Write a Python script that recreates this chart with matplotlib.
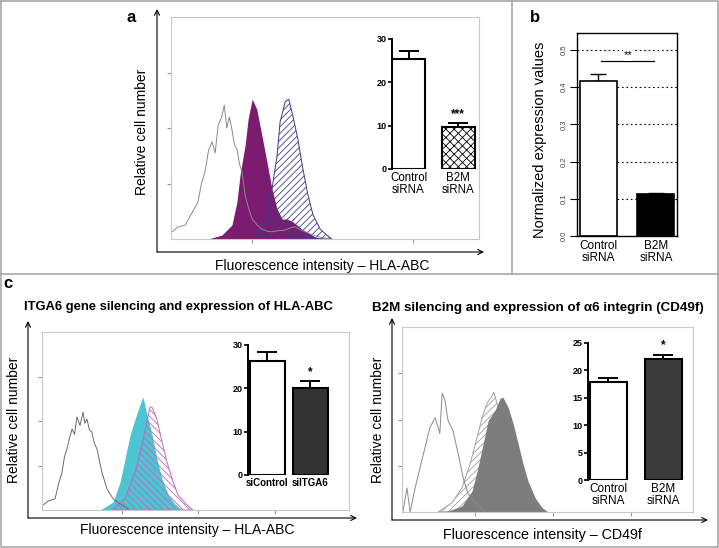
import matplotlib
matplotlib.use("Agg")
import matplotlib.pyplot as plt

plt.rcParams["font.family"] = ["Liberation Sans", "DejaVu Sans"]
plt.rcParams["hatch.linewidth"] = 0.6

W, H = 719, 548

# ---- panel a: flow histograms (channel units, relative count 0-4) -----------
a_ig_x = [2, 15, 28, 40, 53, 60, 67, 74, 81, 87, 93, 100, 105, 110, 115, 120, 125, 130,
          135, 140, 146, 153, 160, 170, 179, 190, 199, 212, 225, 235, 244, 255, 264, 278, 290, 313]
a_ig_y = [0.13, 0.22, 0.25, 0.45, 0.66, 1.0, 1.21, 1.6, 1.75, 1.55, 2.05, 2.2, 2.41, 2.0, 2.2,
          1.98, 1.7, 1.62, 1.35, 1.21, 0.79, 0.55, 0.36, 0.25, 0.18, 0.14, 0.13, 0.15, 0.16,
          0.2, 0.22, 0.17, 0.13, 0.08, 0.04, 0.0]
a_b2m_x = [73, 100, 120, 130, 136, 146, 152, 160, 169, 179, 189, 199, 209, 219, 229, 240, 258, 278, 290]
a_b2m_y = [0, 0.07, 0.25, 0.67, 1.15, 1.69, 2.16, 2.52, 2.34, 1.87, 1.39, 0.90, 0.54, 0.36,
           0.36, 0.31, 0.18, 0.07, 0]
a_ctl_x = [165, 185, 199, 209, 215, 225, 232, 240, 250, 260, 270, 280, 294, 307, 317]
a_ctl_y = [0.04, 0.31, 0.90, 1.50, 2.11, 2.47, 2.52, 2.23, 1.80, 1.26, 0.79, 0.43, 0.18, 0.07, 0]

# panel a inset: MFI
a_mfi_labels = ["Control\nsiRNA", "B2M\nsiRNA"]
a_mfi = [25.3, 9.8]
a_mfi_err = [1.9, 0.7]

# panel b: normalized expression
b_labels = ["Control\nsiRNA", "B2M\nsiRNA"]
b_vals = [0.417, 0.112]
b_err = [0.019, 0.003]

# panel c left: ITGA6 silencing, HLA-ABC
cl_ig_x = [3, 20, 43, 55, 66, 74, 82, 90, 99, 107, 115, 125, 135, 141, 148, 156, 164, 172,
           181, 189, 197, 214, 234, 263, 283]
cl_ig_y = [0.11, 0.2, 0.25, 0.6, 0.85, 1.2, 1.37, 1.6, 1.82, 1.7, 2.09, 1.9, 2.2, 1.95, 2.04,
           1.8, 1.75, 1.5, 1.37, 1.1, 0.85, 0.47, 0.25, 0.11, 0.02]
cl_si_x = [191, 234, 257, 273, 290, 306, 322, 332, 346, 362, 378, 395, 415, 438, 461]
cl_si_y = [0, 0.18, 0.63, 1.15, 1.69, 2.04, 2.36, 2.54, 2.13, 1.69, 1.15, 0.70, 0.34, 0.13, 0]
cl_ctl_x = [230, 273, 306, 329, 345, 355, 362, 378, 395, 411, 428, 447, 477, 497]
cl_ctl_y = [0, 0.25, 0.85, 1.46, 1.98, 2.31, 2.31, 2.04, 1.53, 1.08, 0.70, 0.34, 0.11, 0]
cl_mfi_labels = ["siControl", "siITGA6"]
cl_mfi = [26.4, 20.0]
cl_mfi_err = [2.1, 1.6]

# panel c right: B2M silencing, CD49f
cr_ig_x = [3, 17, 28, 45, 62, 79, 96, 114, 130, 138, 148, 158, 175, 193, 210, 227, 258, 286]
cr_ig_y = [0, 0.52, 0, 0.52, 0.96, 1.39, 1.83, 2.04, 1.7, 2.57, 2.41, 1.98, 1.76, 1.26, 0.74,
           0.39, 0.17, 0]
cr_b2m_x = [124, 172, 206, 234, 258, 275, 292, 310, 316, 330, 354, 389, 423, 458]
cr_b2m_y = [0, 0.2, 0.52, 1.04, 1.61, 2.04, 2.35, 2.52, 2.59, 2.26, 1.76, 1.11, 0.52, 0.09]
cr_ctl_x = [148, 206, 241, 261, 279, 296, 320, 337, 347, 365, 382, 399, 416, 433, 458, 482, 502]
cr_ctl_y = [0, 0.13, 0.46, 0.96, 1.48, 1.98, 2.2, 2.46, 2.48, 2.26, 1.91, 1.48, 1.04, 0.67,
            0.30, 0.09, 0]
cr_mfi_labels = ["Control\nsiRNA", "B2M\nsiRNA"]
cr_mfi = [17.8, 22.1]
cr_mfi_err = [0.9, 0.7]

PURPLE = "#7b1c70"
NAVY = "#3c3c8c"
CYAN = "#4cc4d4"
PINK = "#c06ab4"


def rect(x0, y0, x1, y1):
    """pixel box (top-left origin) -> figure fraction rect"""
    return [x0 / W, 1 - y1 / H, (x1 - x0) / W, (y1 - y0) / H]


def hist_box(r, xmax, xticks):
    ax = fig.add_axes(rect(*r))
    ax.set_xlim(0, xmax)
    ax.set_ylim(0, 4)
    for s in ax.spines.values():
        s.set_color("#c8c8c8")
        s.set_linewidth(0.8)
    ax.set_yticks([1, 2, 3])
    ax.set_xticks(xticks)
    ax.tick_params(length=3, color="#999999", labelleft=False, labelbottom=False)
    return ax


def mfi_inset(r, xmax, pos, vals, errs, ylim, yticks, faces, hatches, labels, stars,
              lab_bold, lab_size, capsize):
    ax = fig.add_axes(rect(*r))
    ax.patch.set_alpha(0)
    ax.bar(pos, vals, width=1.0, color=faces, edgecolor="black", linewidth=1.5,
           hatch=hatches, zorder=2)
    ax.errorbar(pos, vals, yerr=[[0] * len(vals), errs], fmt="none", ecolor="black",
                elinewidth=1.4, capsize=capsize, capthick=1.4, zorder=1)
    top = vals[1] + errs[1]
    ax.text(pos[1], top + ylim[1] * 0.025, stars, ha="center", va="bottom",
            fontsize=8.5, fontweight="bold")
    ax.set_ylim(*ylim)
    ax.set_xlim(0, xmax)
    ax.set_yticks(yticks)
    ax.set_yticklabels([str(t) for t in yticks], fontsize=6.5, fontweight="bold")
    ax.set_xticks(pos)
    ax.set_xticklabels(labels, fontsize=lab_size,
                       fontweight="bold" if lab_bold else "normal", linespacing=1.0)
    ax.tick_params(axis="x", length=0, pad=2)
    ax.tick_params(axis="y", length=3, width=1.2, pad=1)
    for k in ("top", "right", "bottom"):
        ax.spines[k].set_visible(False)
    ax.spines["left"].set_linewidth(1.4)
    return ax


fig = plt.figure(figsize=(W / 100, H / 100), dpi=100)

# background overlay in pixel coordinates for frames, axis arrows and labels
bg = fig.add_axes([0, 0, 1, 1])
bg.set_xlim(0, W)
bg.set_ylim(H, 0)
bg.axis("off")
FR = "#a8a8a8"
bg.plot([1, W - 1, W - 1, 1, 1], [1, 1, H - 1, H - 1, 1], color=FR, lw=1.2)
bg.plot([0, W], [274, 274], color=FR, lw=1.2)
bg.plot([512, 512], [0, 274], color=FR, lw=1.2)


def axis_arrows(x0, y0, xtop, xright):
    ap = dict(arrowstyle="->", color="black", lw=0.8, mutation_scale=9, shrinkA=0, shrinkB=0)
    bg.annotate("", xy=(x0, xtop), xytext=(x0, y0), arrowprops=ap)
    bg.annotate("", xy=(xright, y0), xytext=(x0, y0), arrowprops=ap)


def pointer(x, y0, y1):
    bg.annotate("", xy=(x, y1), xytext=(x, y0),
                arrowprops=dict(arrowstyle="->", color="black", lw=0.9,
                                mutation_scale=9, shrinkA=0, shrinkB=0))


txt = dict(ha="center", va="center")
LAB = 10

# ---------------- panel a ----------------
axis_arrows(157, 252, 9, 484)
ax = hist_box((171, 17, 479, 239), 607, [160, 477])
ax.plot(a_ig_x, a_ig_y, color="#8a8a8a", lw=0.7)
ax.fill_between(a_b2m_x, a_b2m_y, color=PURPLE, lw=0)
ax.fill(a_ctl_x, a_ctl_y, facecolor="none", edgecolor=NAVY, hatch="/////", lw=0.7)

bg.text(131, 17, "a", fontsize=12, fontweight="bold", **txt)
bg.text(142, 132, "Relative cell number", rotation=90, fontsize=LAB, **txt)
bg.text(322, 266, "Fluorescence intensity – HLA-ABC", fontsize=LAB, **txt)
bg.text(208, 91, "Control\nIg", fontsize=9, fontweight="bold", linespacing=1.0, **txt)
pointer(208, 107, 148)
bg.text(253, 81, "B2M\nsiRNA", fontsize=8.3, fontweight="bold", linespacing=1.0, **txt)
bg.text(291, 81, "Control\nsiRNA", fontsize=8.3, fontweight="bold", linespacing=1.0, **txt)

mfi_inset((392, 39, 478, 169), 2.6, [0.5, 2.0], a_mfi, a_mfi_err, (0, 30), [0, 10, 20, 30],
          ["white", "white"], ["", "xxxx"], a_mfi_labels, "***", False, 8.3, 7)
bg.text(358, 105, "MFI", rotation=90, fontsize=7, fontweight="bold", **txt)

# ---------------- panel b ----------------
bg.text(535, 17, "b", fontsize=12, fontweight="bold", **txt)
axb = fig.add_axes(rect(577, 33, 677, 236))
axb.bar([0, 1.55], b_vals, width=1.0, color=["white", "black"], edgecolor="black",
        linewidth=1.2, zorder=2)
axb.errorbar([0, 1.55], b_vals, yerr=[[0, 0], b_err], fmt="none", ecolor="black",
             elinewidth=1.0, capsize=6, capthick=1.0, zorder=1)
axb.set_xlim(-0.58, 2.12)
axb.set_ylim(0, 0.5457)
axb.set_yticks([0, 0.1, 0.2, 0.3, 0.4, 0.5])
axb.set_yticklabels(["0.0", "0.1", "0.2", "0.3", "0.4", "0.5"], rotation=90, fontsize=5.5,
                    color="#444444", va="center")
axb.yaxis.grid(True, linestyle=(0, (1.5, 2.5)), color="black", lw=0.8)
axb.set_axisbelow(True)
axb.set_xticks([0, 1.55])
axb.set_xticklabels(b_labels, fontsize=8.5, linespacing=1.0)
axb.tick_params(axis="x", length=0, pad=3)
axb.tick_params(axis="y", length=5, pad=2)
for s in axb.spines.values():
    s.set_linewidth(1.0)
axb.plot([0.08, 1.5], [0.47, 0.47], color="black", lw=0.9)
axb.text(0.79, 0.473, "**", ha="center", va="bottom", fontsize=8, zorder=5,
         bbox=dict(facecolor="white", edgecolor="none", pad=0.5))
bg.text(540, 140, "Normalized expression values", rotation=90, fontsize=10.5, **txt)

# ---------------- panel c ----------------
bg.text(8, 284, "c", fontsize=12, fontweight="bold", **txt)
bg.text(24, 307, "ITGA6 gene silencing and expression of HLA-ABC", fontsize=9.4,
        fontweight="bold", ha="left", va="center")
bg.text(372, 308, "B2M silencing and expression of \u03b16 integrin (CD49f)", fontsize=9.6,
        fontweight="bold", ha="left", va="center")

# c left
axis_arrows(28, 518, 321, 357)
ax = hist_box((42, 332, 349, 510), 1010, [263, 513, 766])
ax.plot(cl_ig_x, cl_ig_y, color="#6a6a6a", lw=0.7)
ax.fill_between(cl_si_x, cl_si_y, color=CYAN, lw=0)
ax.fill(cl_ctl_x, cl_ctl_y, facecolor="none", edgecolor=PINK, hatch="\\\\\\\\\\", lw=0.7)
bg.text(14, 420, "Relative cell number", rotation=90, fontsize=LAB, **txt)
bg.text(187, 530, "Fluorescence intensity – HLA-ABC", fontsize=LAB, **txt)
bg.text(80, 352, "Control Ig", fontsize=9, fontweight="bold", **txt)
pointer(83, 366, 402)
bg.text(118, 387, "ITGA6\nsiRNA", fontsize=9, fontweight="bold", color="#2aa9c4",
        linespacing=1.05, **txt)
bg.text(178, 395, "Control\nsiRNA", fontsize=9, fontweight="bold", color="#a04d9a",
        linespacing=1.05, **txt)
mfi_inset((248, 345, 332, 475), 2.4, [0.55, 1.78], cl_mfi, cl_mfi_err, (0, 30),
          [0, 10, 20, 30], ["white", "#333333"], ["", ""], cl_mfi_labels, "*", True, 7.0, 7)
bg.text(230, 413, "MFI", rotation=90, fontsize=7, fontweight="bold", **txt)

# c right
axis_arrows(392, 520, 318, 708)
ax = hist_box((402, 327, 693, 512), 1000, [251, 519, 787])
ax.plot(cr_ig_x, cr_ig_y, color="#8a8a8a", lw=0.7)
ax.fill(cr_b2m_x, cr_b2m_y, facecolor="white", edgecolor="#a0a0a0", hatch="/////", lw=0.7)
ax.fill_between(cr_ctl_x, cr_ctl_y, color="#7d7d7d", lw=0)
bg.text(378, 420, "Relative cell number", rotation=90, fontsize=LAB, **txt)
bg.text(542, 535, "Fluorescence intensity – CD49f", fontsize=10.3, **txt)
bg.text(441, 345, "Control Ig", fontsize=9, fontweight="bold", **txt)
pointer(427, 355, 400)
bg.text(470, 380, "B2M\nsiRNA", fontsize=9, fontweight="bold", color="#9a9a9a",
        linespacing=1.05, **txt)
bg.text(530, 391, "Control\nsiRNA", fontsize=9, fontweight="bold", color="#6a6a6a",
        linespacing=1.05, **txt)
mfi_inset((588, 343, 686, 480), 2.65, [0.55, 2.04], cr_mfi, cr_mfi_err, (0, 25),
          [0, 5, 10, 15, 20, 25], ["white", "#3a3a3a"], ["", ""], cr_mfi_labels, "*",
          False, 8.5, 7)
bg.text(566, 422, "MFI", rotation=90, fontsize=7, fontweight="bold", **txt)

fig.savefig("out.png", dpi=100, facecolor="white")
